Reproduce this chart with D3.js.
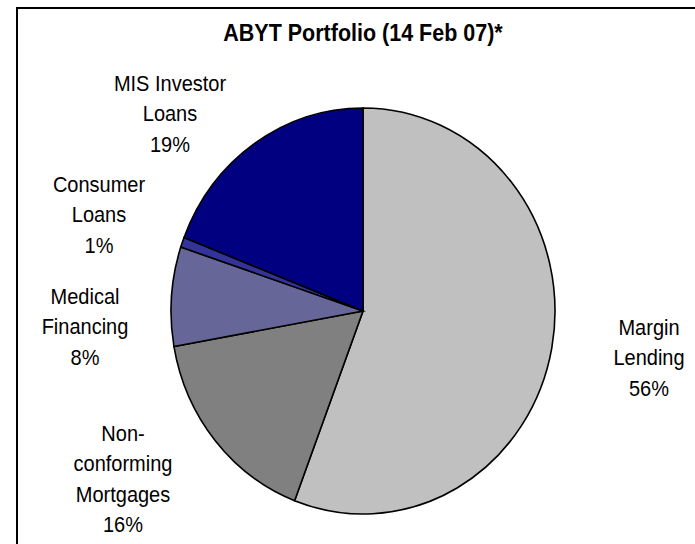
<!DOCTYPE html>
<head>
    <title>ABYT Portfolio</title>
    <script src="https://cdn.jsdelivr.net/npm/d3@7"></script>
    <style>
        body { margin: 0; background: white; }
    </style>
</head>
<body>
<div id="container"></div>

<script>

// Données
const categories = ["Margin Lending", "Non-conforming Mortgages", "Medical Financing", "Consumer Loans", "MIS Investor Loans"];
const values = [55.8, 16.4, 7.9, 0.8, 19.1];
const percentLabels = ["56%", "16%", "8%", "1%", "19%"];
const labelLines = [
    ["Margin", "Lending"],
    ["Non-", "conforming", "Mortgages"],
    ["Medical", "Financing"],
    ["Consumer", "Loans"],
    ["MIS Investor", "Loans"]
];
const colors = ["#c0c0c0", "#808080", "#666699", "#333399", "#000080"];

const width = 695;
const height = 544;
const cx = 363;
const cy = 311;
const rx = 192;
const ry = 203;
const stretch = 1.07; // le texte d'origine est un peu étiré en hauteur

// Positions des étiquettes (centre de la première ligne)
const labelPos = [
    [649, 327],
    [123, 433],
    [85, 296],
    [99, 184],
    [170, 83]
];
const lineStep = 30.5;

const svg = d3.create("svg")
              .attr("width", width)
              .attr("height", height);

svg.append("rect")
   .attr("x", 17)
   .attr("y", 8)
   .attr("width", 720)
   .attr("height", 580)
   .style("fill", "white")
   .style("stroke", "black")
   .style("stroke-width", 2);

svg.append("text")
   .attr("transform", `translate(${cx},33) scale(1,${stretch})`)
   .attr("text-anchor", "middle")
   .attr("dominant-baseline", "central")
   .style("font-family", "'Liberation Sans', Arial, sans-serif")
   .style("font-weight", "bold")
   .style("font-size", "21.5px")
   .text("ABYT Portfolio (14 Feb 07)*");

const pie = d3.pie().sort(null).value(d => d);
const arc = d3.arc().innerRadius(0).outerRadius(rx);

const g = svg.append("g")
             .attr("transform", `translate(${cx},${cy}) scale(1,${ry / rx})`);

g.selectAll("path")
 .data(pie(values))
 .enter().append("path")
 .attr("d", arc)
 .style("fill", (d, i) => colors[i])
 .style("stroke", "black")
 .style("stroke-width", 1.6)
 .attr("vector-effect", "non-scaling-stroke");

// Étiquettes
const labels = svg.append("g")
                  .style("font-family", "'Liberation Sans', Arial, sans-serif")
                  .style("font-size", "20px")
                  .attr("text-anchor", "middle");

categories.forEach((c, i) => {
    const lines = labelLines[i].concat([percentLabels[i]]);
    lines.forEach((l, j) => {
        labels.append("text")
              .attr("transform", `translate(${labelPos[i][0]},${labelPos[i][1] + j * lineStep}) scale(1,${stretch})`)
              .attr("dominant-baseline", "central")
              .text(l);
    });
});

container.append(svg.node());

</script>
</body>
